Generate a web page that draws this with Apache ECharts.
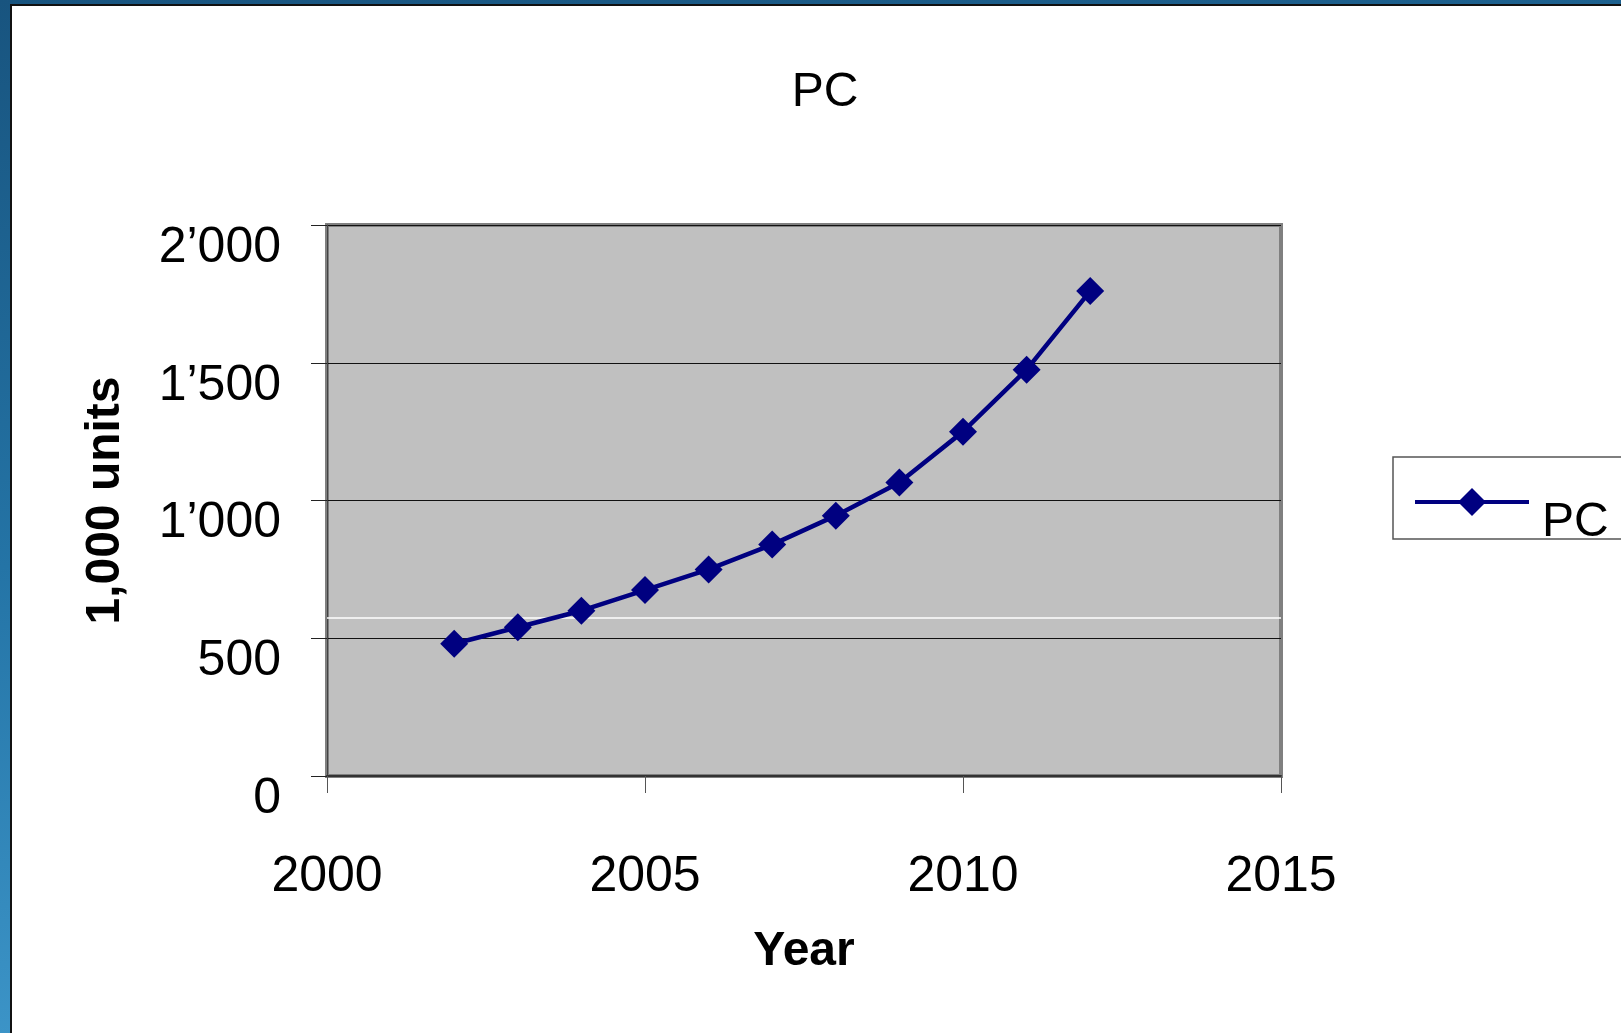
<!DOCTYPE html>
<html>
<head>
<meta charset="utf-8">
<title>PC</title>
<script src="https://cdn.jsdelivr.net/npm/echarts@6/dist/echarts.min.js"></script>
<style>
  html, body { margin: 0; padding: 0; width: 1621px; height: 1033px; overflow: hidden; }
  #frame {
    position: absolute; left: 0; top: 0; width: 1621px; height: 1033px;
    background: linear-gradient(172deg, #18547f 0%, #2474a6 45%, #47a3d7 100%);
  }
  #paper {
    position: absolute; left: 10px; top: 4px; right: 0; bottom: 0;
    background: #ffffff;
    border-left: 2px solid #111; border-top: 2px solid #111;
  }
  #chart { position: absolute; left: 0; top: 0; width: 1621px; height: 1033px; }
</style>
</head>
<body>
<div id="frame"></div>
<div id="paper"></div>
<div id="chart"></div>
<script>
// Yearly PC figures, in thousands of units
const years = [2002, 2003, 2004, 2005, 2006, 2007, 2008, 2009, 2010, 2011, 2012];
const pcUnits = [480, 540, 600, 675, 750, 840, 945, 1065, 1250, 1475, 1760];

// Axis tick labels
const yTickValues = [0, 500, 1000, 1500, 2000];
const yTickLabels = ['0', '500', '1\u2019000', '1\u2019500', '2\u2019000'];
const xTickValues = [2000, 2005, 2010, 2015];
const xTickLabels = ['2000', '2005', '2010', '2015'];

// Thin white rule across the plot
const whiteRule = [573];

const FONT = '"Liberation Sans", Arial, sans-serif';
const NAVY = '#000080';

const chart = echarts.init(document.getElementById('chart'), null, { renderer: 'canvas' });

chart.setOption({
  backgroundColor: 'transparent',
  animation: false,
  title: {
    text: 'PC',
    left: 820,
    textAlign: 'center',
    top: 64,
    textStyle: { fontFamily: FONT, fontSize: 48, fontWeight: 'normal', color: '#000' }
  },
  legend: {
    data: ['PC'],
    left: 1413,
    top: 488,
    padding: 0,
    itemWidth: 114,
    itemHeight: 35,
    lineStyle: { width: 4, color: NAVY },
    itemStyle: { color: NAVY },
    formatter: name => '{t|' + name + '}',
    textStyle: {
      fontFamily: FONT, fontSize: 48, color: '#000',
      rich: {
        t: {
          fontFamily: FONT, fontSize: 48, color: '#000',
          lineHeight: 90, verticalAlign: 'bottom', padding: [0, 0, 0, 8]
        }
      }
    }
  },
  graphic: [{
    type: 'rect',
    shape: { x: 1393, y: 457, width: 260, height: 82 },
    style: { fill: 'none', stroke: '#555', lineWidth: 1.5 },
    silent: true
  }],
  grid: {
    left: 327, right: 340, top: 225, bottom: 257,
    show: true,
    backgroundColor: '#c0c0c0',
    borderColor: '#808080',
    borderWidth: 4
  },
  xAxis: {
    type: 'value',
    min: 2000, max: 2015, interval: 5,
    name: 'Year',
    nameLocation: 'middle',
    nameGap: 152,
    nameTextStyle: { fontFamily: FONT, fontSize: 48, fontWeight: 'bold', color: '#000' },
    axisLine: { show: true, lineStyle: { color: '#333', width: 2 } },
    axisTick: { show: true, length: 17, lineStyle: { color: '#555', width: 1 } },
    splitLine: { show: false },
    axisLabel: {
      margin: 76,
      fontFamily: FONT, fontSize: 50, color: '#000',
      formatter: v => xTickLabels[xTickValues.indexOf(v)] ?? String(v)
    }
  },
  yAxis: {
    type: 'value',
    min: 0, max: 2000, interval: 500,
    name: '1,000 units',
    nameLocation: 'middle',
    nameRotate: 90,
    nameGap: 197,
    nameTextStyle: { fontFamily: FONT, fontSize: 48, fontWeight: 'bold', color: '#000' },
    axisLine: { show: true, lineStyle: { color: '#444', width: 1 } },
    axisTick: { show: true, length: 16, lineStyle: { color: '#222', width: 1 } },
    splitLine: { show: true, lineStyle: { color: '#111', width: 1 } },
    axisLabel: {
      margin: 46,
      fontFamily: FONT, fontSize: 50, color: '#000',
      verticalAlign: 'top',
      lineHeight: 46,
      formatter: v => yTickLabels[yTickValues.indexOf(v)] ?? String(v)
    }
  },
  series: [{
    name: 'PC',
    type: 'line',
    data: years.map((y, i) => [y, pcUnits[i]]),
    symbol: 'diamond',
    symbolSize: 28,
    lineStyle: { color: NAVY, width: 4.5 },
    itemStyle: { color: NAVY },
    markLine: {
      silent: true,
      symbol: 'none',
      label: { show: false },
      lineStyle: { color: '#ffffff', width: 1.5, type: 'solid' },
      data: whiteRule.map(v => ({ yAxis: v }))
    },
    z: 5
  }]
});
</script>
</body>
</html>
